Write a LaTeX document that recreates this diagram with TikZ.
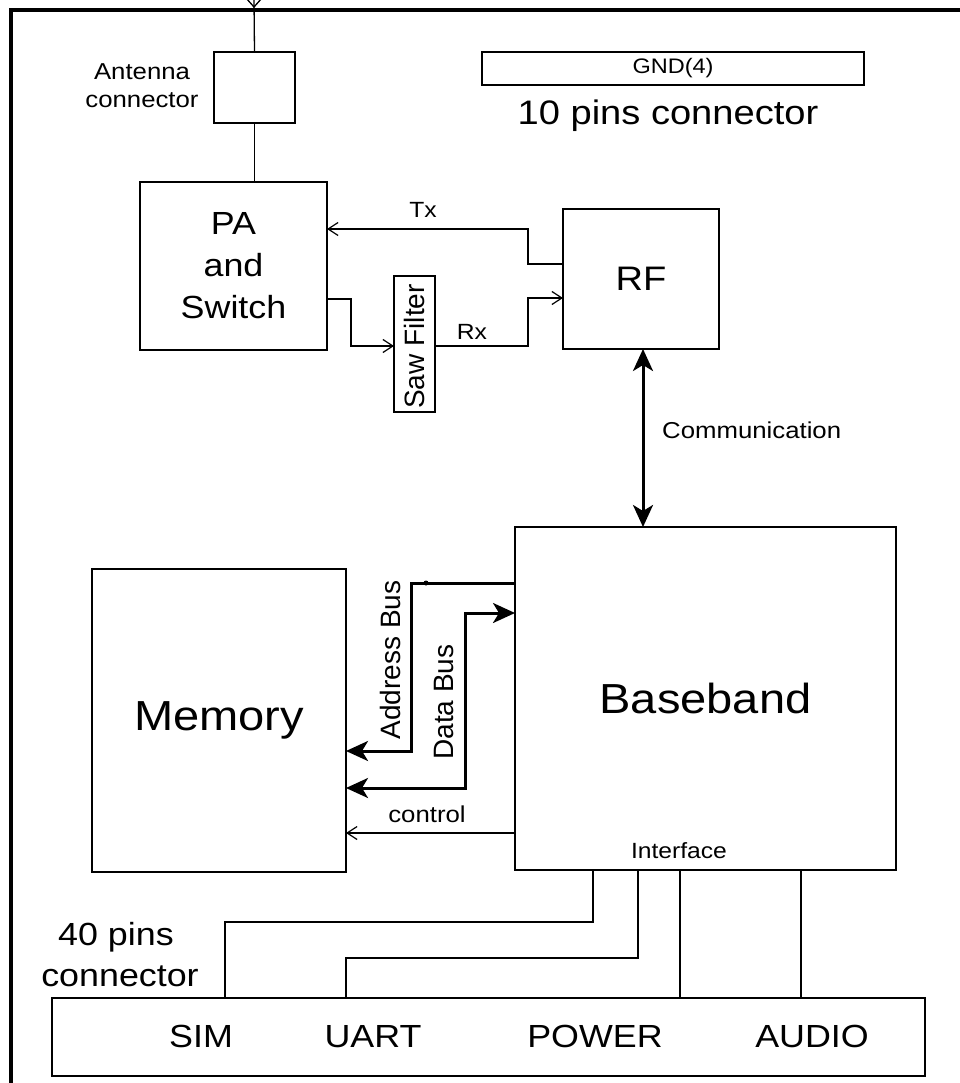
\documentclass[tikz,border=0pt]{standalone}
\usepackage{fontspec}
\setmainfont{Liberation Sans}[FakeStretch=1.12]
\newfontfamily\rotfont{Liberation Sans}
\usetikzlibrary{arrows.meta}
\newcommand\fsz[2]{\fontsize{#1}{#2}\selectfont}
\begin{document}
\begin{tikzpicture}[x=1pt,y=-1pt,line join=miter,
  box/.style={draw,line width=1.3pt,inner sep=0pt,outer sep=0pt},
  wire/.style={line width=1.3pt},
  bus/.style={line width=3pt},
  barb/.style={-{Straight Barb[length=10pt,width=13pt,line width=1.2pt]}},
  bigtip/.style={Stealth[length=22pt,width=20pt,inset=6pt]},
  lbl/.style={inner sep=0pt,anchor=base},
  rlbl/.style={inner sep=0pt,rotate=90,font=\rotfont\fsz{28}{32}}]
\useasboundingbox (0,0) rectangle (959,1083);
% outer frame
\draw[line width=3.5pt] (11,1095) -- (11,10) -- (975,10);
% boxes
\node[box,minimum width=81,minimum height=71] (ant) at (254.5,87.5) {};
\node[box,minimum width=187,minimum height=168,align=center,font=\fsz{32}{42}] (pa) at (233.5,266) {PA\\and\\Switch};
\node[box,minimum width=41,minimum height=136] (saw) at (414.5,344) {};
\node[box,minimum width=156,minimum height=140,font=\fsz{34}{40}] (rf) at (641,279) {RF};
\node[box,minimum width=382,minimum height=33,font=\fsz{21}{25}] (gnd) at (673,68.5) {GND(4)};
\node[box,minimum width=381,minimum height=343,font=\fsz{42}{48}] (bb) at (705.5,698.5) {Baseband};
\node[box,minimum width=254,minimum height=303,font=\fsz{42}{48}] (mem) at (219,720.5) {Memory};
\node[box,minimum width=873,minimum height=78] (con) at (488.5,1037) {};
% helper coordinates
\coordinate (antip) at (254,0);
\coordinate (commx) at (643,0);
\coordinate (simx) at (593,0);
\coordinate (uartx) at (638,0);
\coordinate (powx) at (680,0);
\coordinate (audx) at (801,0);
\coordinate (simpin) at (225,0);
\coordinate (uartpin) at (346,0);
% antenna
\draw[wire] (246,-2) -- (254,7) -- (262,-2);
\draw[wire] (antip) -- (ant.north);
\draw[wire] (ant.south) -- (ant.south |- pa.north);
% Tx / Rx
\draw[wire,barb] (rf.west |- 0,264) -| (528,229) -- (pa.east |- 0,229);
\draw[wire,barb] (pa.east |- 0,299) -| (351,346) -- (saw.west |- 0,346);
\draw[wire,barb] (saw.east |- 0,346) -| (528,298) -- (rf.west |- 0,298);
% communication
\draw[bus,{Stealth[length=22pt,width=20pt,inset=6pt]}-{Stealth[length=22pt,width=20pt,inset=6pt]}] (commx |- rf.south) -- (commx |- bb.north);
% buses
\draw[bus,-{Stealth[length=22pt,width=20pt,inset=6pt]}] (bb.west |- 0,583) -- (411,583) -- (411,751) -- (mem.east |- 0,751);
\fill (426,583) circle (2.5);
\draw[bus,{Stealth[length=22pt,width=20pt,inset=6pt]}-{Stealth[length=22pt,width=20pt,inset=6pt]}] (mem.east |- 0,788) -- (465,788) -- (465,613) -- (bb.west |- 0,613);
\draw[wire,barb] (bb.west |- 0,833) -- (mem.east |- 0,833);
% interface lines
\draw[wire] (simx |- bb.south) -- (593,922) -- (225,922) -- (simpin |- con.north);
\draw[wire] (uartx |- bb.south) -- (638,958) -- (346,958) -- (uartpin |- con.north);
\draw[wire] (powx |- bb.south) -- (powx |- con.north);
\draw[wire] (audx |- bb.south) -- (audx |- con.north);
% labels
\node[lbl,font=\fsz{23}{28}] (l1) at (142,80) {Antenna};
\node[lbl,font=\fsz{23}{28}] (l2) at (142,108) {connector};
\node[lbl,font=\fsz{34}{40}] (l3) at (668,125) {10 pins connector};
\node[lbl,font=\fsz{22}{26}] (l4) at (423,218) {Tx};
\node[lbl,font=\fsz{22}{26}] (l5) at (472,339) {Rx};
\node[rlbl] (l6) at (414.5,346.5) {Saw Filter};
\node[lbl,font=\fsz{23}{28},anchor=base west] (l7) at (662,438) {Communication};
\node[rlbl] (l8) at (390,660) {Address Bus};
\node[rlbl] (l9) at (444,702) {Data Bus};
\node[lbl,font=\fsz{23}{28}] (l10) at (427,822) {control};
\node[lbl,font=\fsz{22}{26}] (l11) at (679,858) {Interface};
\node[lbl,font=\fsz{32}{38}] (l12) at (116,945) {40 pins};
\node[lbl,font=\fsz{32}{38}] (l13) at (120,986) {connector};
\node[lbl,font=\fsz{32}{38}] (l14) at (201,1047) {SIM};
\node[lbl,font=\fsz{32}{38}] (l15) at (373,1047) {UART};
\node[lbl,font=\fsz{32}{38}] (l16) at (595,1047) {POWER};
\node[lbl,font=\fsz{32}{38}] (l17) at (812,1047) {AUDIO};
\end{tikzpicture}
\end{document}
